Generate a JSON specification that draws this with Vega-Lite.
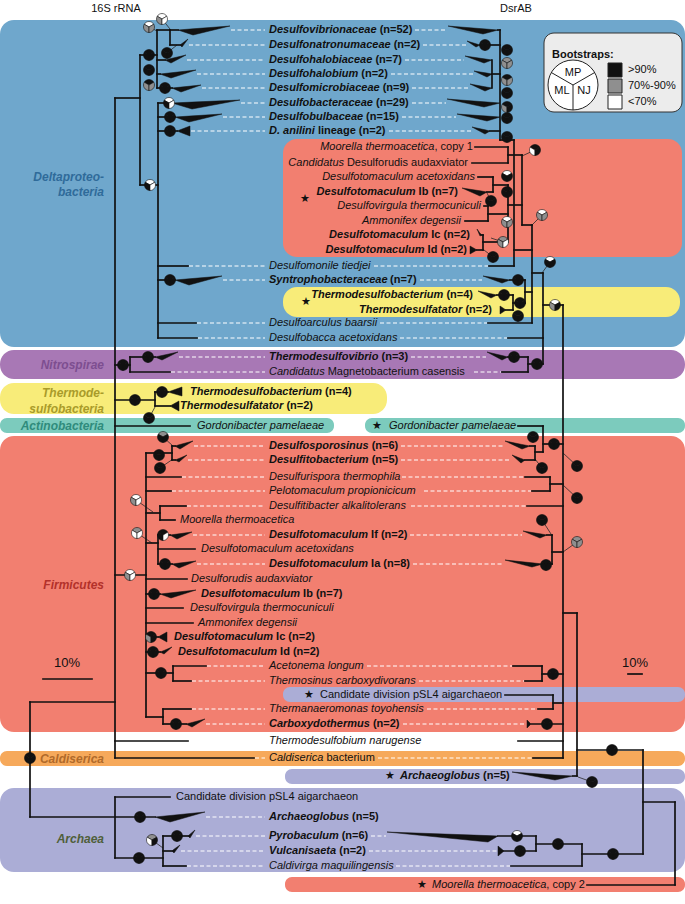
{
"$schema":"https://vega.github.io/schema/vega-lite/v6.json",
"width":685,"height":904,"padding":0,
"autosize":{"type":"fit","contains":"padding"},
"background":"white",
"config":{"view":{"stroke":null}},
"resolve":{"scale":{"fill":"independent","color":"independent"}},
"datasets":{
"bands":[
{"x":0,"x2":685,"y":20,"y2":347,"c":"#6fa7cc","r":"big"},
{"x":283,"x2":682,"y":139,"y2":257,"c":"#f27f70","r":"big"},
{"x":283,"x2":680,"y":287,"y2":317,"c":"#f8ec79","r":"big"},
{"x":0,"x2":685,"y":350,"y2":379,"c":"#a878b5","r":"big"},
{"x":0,"x2":387,"y":383,"y2":414,"c":"#f8ec79","r":"big"},
{"x":0,"x2":334,"y":418,"y2":433,"c":"#7ccbbd","r":"small"},
{"x":365,"x2":685,"y":418,"y2":433,"c":"#7ccbbd","r":"small"},
{"x":0,"x2":685,"y":436,"y2":732,"c":"#f27f70","r":"big"},
{"x":283,"x2":685,"y":687,"y2":702,"c":"#abadd6","r":"small"},
{"x":0,"x2":685,"y":751,"y2":766,"c":"#f6a95b","r":"small"},
{"x":285,"x2":685,"y":769,"y2":784,"c":"#abadd6","r":"small"},
{"x":0,"x2":685,"y":788,"y2":872,"c":"#abadd6","r":"big"},
{"x":285,"x2":685,"y":877,"y2":892,"c":"#f27f70","r":"small"}
],
"segs":[
{"x":30,"y":702,"x2":30,"y2":817},{"x":30,"y":702,"x2":115,"y2":702},{"x":30,"y":817,"x2":155,"y2":817},
{"x":115,"y":98,"x2":115,"y2":758},{"x":115,"y":797,"x2":115,"y2":858},{"x":115,"y":797,"x2":170,"y2":797},
{"x":115,"y":858,"x2":163,"y2":858},{"x":163,"y":836,"x2":163,"y2":866},{"x":163,"y":836,"x2":188,"y2":836},
{"x":163,"y":851,"x2":172,"y2":851},{"x":163,"y":866,"x2":186,"y2":866},
{"x":115,"y":98,"x2":140,"y2":98},{"x":140,"y":55,"x2":140,"y2":185},{"x":140,"y":55,"x2":157,"y2":55},
{"x":157,"y":30,"x2":157,"y2":88},{"x":157,"y":30,"x2":170,"y2":30},{"x":170,"y":30,"x2":170,"y2":45},
{"x":170,"y":30,"x2":178,"y2":30},{"x":170,"y":45,"x2":180,"y2":45},{"x":157,"y":60,"x2":165,"y2":60},
{"x":157,"y":74,"x2":160,"y2":74},{"x":157,"y":88,"x2":172,"y2":88},{"x":140,"y":185,"x2":158,"y2":185},
{"x":158,"y":103,"x2":158,"y2":338},{"x":158,"y":103,"x2":172,"y2":103},{"x":158,"y":117,"x2":175,"y2":117},
{"x":158,"y":131,"x2":177,"y2":131},{"x":158,"y":266,"x2":188,"y2":266},{"x":158,"y":280,"x2":175,"y2":280},
{"x":158,"y":323,"x2":196,"y2":323},{"x":158,"y":338,"x2":197,"y2":338},
{"x":115,"y":365,"x2":130,"y2":365},{"x":130,"y":357,"x2":130,"y2":372},{"x":130,"y":357,"x2":155,"y2":357},
{"x":130,"y":372,"x2":170,"y2":372},{"x":115,"y":400,"x2":155,"y2":400},{"x":155,"y":392,"x2":155,"y2":406},
{"x":155,"y":392,"x2":168,"y2":392},{"x":155,"y":406,"x2":170,"y2":406},{"x":115,"y":426,"x2":190,"y2":426},
{"x":115,"y":575,"x2":146,"y2":575},{"x":146,"y":453,"x2":146,"y2":717},{"x":146,"y":453,"x2":172,"y2":453},
{"x":172,"y":446,"x2":172,"y2":460},{"x":172,"y":446,"x2":175,"y2":446},{"x":172,"y":460,"x2":175,"y2":460},
{"x":146,"y":477,"x2":181,"y2":477},{"x":146,"y":491,"x2":171,"y2":491},{"x":146,"y":513,"x2":160,"y2":513},
{"x":160,"y":506,"x2":160,"y2":520},{"x":160,"y":506,"x2":186,"y2":506},{"x":160,"y":520,"x2":175,"y2":520},
{"x":146,"y":543,"x2":158,"y2":543},{"x":158,"y":535,"x2":158,"y2":564},{"x":158,"y":535,"x2":170,"y2":535},
{"x":158,"y":549,"x2":195,"y2":549},{"x":158,"y":564,"x2":172,"y2":564},{"x":146,"y":579,"x2":187,"y2":579},
{"x":146,"y":594,"x2":160,"y2":594},{"x":146,"y":608,"x2":183,"y2":608},{"x":146,"y":623,"x2":193,"y2":623},
{"x":146,"y":637,"x2":158,"y2":637},{"x":146,"y":652,"x2":160,"y2":652},{"x":146,"y":673,"x2":173,"y2":673},
{"x":173,"y":666,"x2":173,"y2":681},{"x":173,"y":666,"x2":206,"y2":666},{"x":173,"y":681,"x2":191,"y2":681},
{"x":146,"y":717,"x2":163,"y2":717},{"x":163,"y":709,"x2":163,"y2":724},{"x":163,"y":709,"x2":191,"y2":709},
{"x":163,"y":724,"x2":186,"y2":724},{"x":115,"y":741,"x2":188,"y2":741},{"x":115,"y":758,"x2":254,"y2":758},
{"x":43,"y":679,"x2":92,"y2":679},
{"x":500,"y":30,"x2":500,"y2":140},{"x":498,"y":30,"x2":500,"y2":30},{"x":480,"y":45,"x2":500,"y2":45},
{"x":492,"y":60,"x2":492,"y2":88},{"x":492,"y":74,"x2":500,"y2":74},{"x":490,"y":131,"x2":500,"y2":131},
{"x":500,"y":140,"x2":514,"y2":140},{"x":514,"y":140,"x2":514,"y2":266},{"x":489,"y":266,"x2":514,"y2":266},
{"x":475,"y":147,"x2":508,"y2":147},{"x":472,"y":163,"x2":508,"y2":163},{"x":508,"y":147,"x2":508,"y2":163},
{"x":508,"y":155,"x2":522,"y2":155},{"x":522,"y":155,"x2":522,"y2":225},{"x":478,"y":177,"x2":493,"y2":177},
{"x":487,"y":192,"x2":493,"y2":192},{"x":493,"y":177,"x2":493,"y2":192},{"x":493,"y":185,"x2":508,"y2":185},
{"x":508,"y":185,"x2":508,"y2":242},{"x":484,"y":206,"x2":488,"y2":206},{"x":465,"y":221,"x2":488,"y2":221},
{"x":488,"y":206,"x2":488,"y2":221},{"x":488,"y":214,"x2":508,"y2":214},{"x":483,"y":235,"x2":483,"y2":250},
{"x":482,"y":235,"x2":483,"y2":235},{"x":477,"y":250,"x2":483,"y2":250},{"x":483,"y":242,"x2":508,"y2":242},
{"x":508,"y":205,"x2":522,"y2":205},{"x":522,"y":225,"x2":532,"y2":225},{"x":532,"y":225,"x2":532,"y2":323},
{"x":514,"y":250,"x2":532,"y2":250},{"x":510,"y":280,"x2":525,"y2":280},{"x":525,"y":280,"x2":525,"y2":303},
{"x":497,"y":295,"x2":513,"y2":295},{"x":506,"y":310,"x2":513,"y2":310},{"x":513,"y":295,"x2":513,"y2":310},
{"x":513,"y":303,"x2":525,"y2":303},{"x":525,"y":292,"x2":532,"y2":292},{"x":488,"y":323,"x2":532,"y2":323},
{"x":532,"y":273,"x2":543,"y2":273},{"x":543,"y":273,"x2":543,"y2":364},{"x":508,"y":338,"x2":543,"y2":338},
{"x":508,"y":357,"x2":528,"y2":357},{"x":528,"y":357,"x2":528,"y2":372},{"x":502,"y":372,"x2":528,"y2":372},
{"x":528,"y":364,"x2":543,"y2":364},{"x":543,"y":305,"x2":563,"y2":305},{"x":563,"y":305,"x2":563,"y2":758},
{"x":518,"y":426,"x2":543,"y2":426},{"x":543,"y":426,"x2":543,"y2":452},{"x":530,"y":446,"x2":535,"y2":446},
{"x":525,"y":460,"x2":535,"y2":460},{"x":535,"y":446,"x2":535,"y2":460},{"x":535,"y":452,"x2":543,"y2":452},
{"x":543,"y":444,"x2":563,"y2":444},{"x":525,"y":477,"x2":550,"y2":477},{"x":532,"y":491,"x2":550,"y2":491},
{"x":550,"y":477,"x2":550,"y2":491},{"x":550,"y":484,"x2":563,"y2":484},{"x":527,"y":506,"x2":563,"y2":506},
{"x":547,"y":535,"x2":552,"y2":535},{"x":552,"y":535,"x2":552,"y2":564},{"x":543,"y":564,"x2":552,"y2":564},
{"x":552,"y":552,"x2":563,"y2":552},{"x":513,"y":666,"x2":542,"y2":666},{"x":525,"y":681,"x2":542,"y2":681},
{"x":542,"y":666,"x2":542,"y2":681},{"x":542,"y":674,"x2":563,"y2":674},{"x":505,"y":695,"x2":553,"y2":695},
{"x":538,"y":709,"x2":553,"y2":709},{"x":553,"y":695,"x2":553,"y2":709},{"x":553,"y":703,"x2":563,"y2":703},
{"x":529,"y":724,"x2":563,"y2":724},{"x":518,"y":741,"x2":563,"y2":741},{"x":533,"y":758,"x2":563,"y2":758},
{"x":563,"y":613,"x2":577,"y2":613},{"x":577,"y":613,"x2":577,"y2":776},{"x":573,"y":776,"x2":577,"y2":776},
{"x":577,"y":750,"x2":643,"y2":750},{"x":643,"y":750,"x2":643,"y2":854},{"x":582,"y":854,"x2":643,"y2":854},
{"x":582,"y":844,"x2":582,"y2":866},{"x":536,"y":844,"x2":582,"y2":844},{"x":536,"y":836,"x2":536,"y2":851},
{"x":498,"y":836,"x2":536,"y2":836},{"x":504,"y":851,"x2":536,"y2":851},{"x":511,"y":866,"x2":582,"y2":866},
{"x":643,"y":802,"x2":675,"y2":802},{"x":675,"y":802,"x2":675,"y2":885},{"x":587,"y":885,"x2":675,"y2":885},
{"x":628,"y":674,"x2":642,"y2":674}
],
"thin":[
{"x":162,"y":19,"x2":170,"y2":29},{"x":149,"y":27,"x2":157,"y2":31},{"x":167,"y":53,"x2":177,"y2":45},
{"x":136,"y":500,"x2":153,"y2":512},{"x":137,"y":533,"x2":152,"y2":543},{"x":163,"y":437,"x2":173,"y2":446},
{"x":160,"y":468,"x2":173,"y2":459},{"x":149,"y":418,"x2":155,"y2":407},{"x":152,"y":840,"x2":163,"y2":848},
{"x":542,"y":215,"x2":532,"y2":225},{"x":550,"y":262,"x2":542,"y2":273},{"x":535,"y":150,"x2":522,"y2":156},
{"x":493,"y":257,"x2":484,"y2":250},{"x":491,"y":201,"x2":487,"y2":193},{"x":577,"y":466,"x2":563,"y2":453},
{"x":577,"y":498,"x2":563,"y2":485},{"x":577,"y":542,"x2":563,"y2":552},{"x":592,"y":782,"x2":578,"y2":777},
{"x":503,"y":242,"x2":491,"y2":238},{"x":542,"y":520,"x2":551,"y2":534},{"x":542,"y":468,"x2":535,"y2":459},
{"x":573,"y":85,"x2":551.3,"y2":72.5},{"x":573,"y":85,"x2":594.7,"y2":72.5},{"x":573,"y":85,"x2":573,"y2":110}
],
"dash":[
{"x":231,"x2":265,"y":30},{"x":189,"x2":265,"y":45},{"x":187,"x2":265,"y":60},{"x":197,"x2":265,"y":74},
{"x":202,"x2":265,"y":88},{"x":241,"x2":265,"y":103},{"x":223,"x2":265,"y":117},{"x":191,"x2":265,"y":131},
{"x":189,"x2":265,"y":266},{"x":223,"x2":265,"y":280},{"x":197,"x2":265,"y":323},{"x":198,"x2":265,"y":338},
{"x":179,"x2":265,"y":357},{"x":171,"x2":265,"y":372},{"x":194,"x2":265,"y":446},{"x":188,"x2":265,"y":460},
{"x":182,"x2":265,"y":477},{"x":172,"x2":265,"y":491},{"x":187,"x2":265,"y":506},{"x":193,"x2":265,"y":535},
{"x":197,"x2":265,"y":564},{"x":207,"x2":265,"y":666},{"x":192,"x2":265,"y":681},{"x":192,"x2":265,"y":709},
{"x":206,"x2":265,"y":724},{"x":189,"x2":265,"y":741},{"x":255,"x2":265,"y":758},{"x":206,"x2":265,"y":817},
{"x":196,"x2":265,"y":836},{"x":181,"x2":265,"y":851},{"x":187,"x2":265,"y":866},
{"x":415,"x2":447,"y":30},{"x":423,"x2":466,"y":45},{"x":405,"x2":464,"y":60},{"x":391,"x2":473,"y":74},
{"x":412,"x2":469,"y":88},{"x":412,"x2":446,"y":103},{"x":402,"x2":456,"y":117},{"x":389,"x2":471,"y":131},
{"x":374,"x2":488,"y":266},{"x":420,"x2":482,"y":280},{"x":380,"x2":487,"y":323},{"x":400,"x2":507,"y":338},
{"x":411,"x2":486,"y":357},{"x":474,"x2":501,"y":372},{"x":401,"x2":504,"y":446},{"x":401,"x2":511,"y":460},
{"x":402,"x2":524,"y":477},{"x":424,"x2":531,"y":491},{"x":411,"x2":526,"y":506},{"x":410,"x2":522,"y":535},
{"x":413,"x2":504,"y":564},{"x":367,"x2":512,"y":666},{"x":419,"x2":524,"y":681},{"x":427,"x2":537,"y":709},
{"x":403,"x2":526,"y":724},{"x":429,"x2":517,"y":741},{"x":378,"x2":532,"y":758},{"x":371,"x2":386,"y":836},
{"x":369,"x2":497,"y":851},{"x":396,"x2":510,"y":866}
],
"wedges":[
{"w":"L1","x":178,"y":30,"y2":30},{"w":"L1","x":193,"y":28.8,"y2":35},{"w":"L1","x":230,"y":26,"y2":26},
{"w":"L2","x":180,"y":45,"y2":45},{"w":"L2","x":182,"y":43.5,"y2":47},{"w":"L2","x":188,"y":39,"y2":39},
{"w":"L3","x":165,"y":60,"y2":60},{"w":"L3","x":171,"y":58.5,"y2":63},{"w":"L3","x":186,"y":55,"y2":55},
{"w":"L4","x":160,"y":74,"y2":74},{"w":"L4","x":171,"y":72.8,"y2":78},{"w":"L4","x":196,"y":70,"y2":70},
{"w":"L5","x":172,"y":88,"y2":88},{"w":"L5","x":181,"y":87.1,"y2":92},{"w":"L5","x":201,"y":85,"y2":85},
{"w":"L6","x":172,"y":103,"y2":103},{"w":"L6","x":192,"y":102.1,"y2":109},{"w":"L6","x":240,"y":100,"y2":100},
{"w":"L7","x":175,"y":117,"y2":117},{"w":"L7","x":189,"y":116.1,"y2":122},{"w":"L7","x":222,"y":114,"y2":114},
{"w":"L8","x":177,"y":131,"y2":131},{"w":"L8","x":190,"y":126,"y2":136},
{"w":"L9","x":175,"y":280,"y2":280},{"w":"L9","x":189,"y":278.8,"y2":285},{"w":"L9","x":222,"y":276,"y2":276},
{"w":"L10","x":155,"y":357,"y2":357},{"w":"L10","x":162,"y":355.5,"y2":360},{"w":"L10","x":178,"y":352,"y2":352},
{"w":"L11","x":168,"y":392,"y2":392},{"w":"L11","x":182,"y":387,"y2":396},
{"w":"L12","x":170,"y":406,"y2":406},{"w":"L12","x":179,"y":401,"y2":411},
{"w":"L13","x":175,"y":446,"y2":446},{"w":"L13","x":180,"y":444.5,"y2":449},{"w":"L13","x":193,"y":441,"y2":441},
{"w":"L14","x":175,"y":460,"y2":460},{"w":"L14","x":179,"y":458.5,"y2":462},{"w":"L14","x":187,"y":455,"y2":455},
{"w":"L15","x":170,"y":535,"y2":535},{"w":"L15","x":177,"y":534.1,"y2":539},{"w":"L15","x":192,"y":532,"y2":532},
{"w":"L16","x":172,"y":564,"y2":564},{"w":"L16","x":179,"y":563.1,"y2":568},{"w":"L16","x":196,"y":561,"y2":561},
{"w":"L17","x":160,"y":594,"y2":594},{"w":"L17","x":171,"y":592.8,"y2":598},{"w":"L17","x":196,"y":590,"y2":590},
{"w":"L18","x":158,"y":637,"y2":637},{"w":"L18","x":167,"y":632,"y2":642},
{"w":"L19","x":160,"y":652,"y2":652},{"w":"L19","x":164,"y":650.5,"y2":654},{"w":"L19","x":172,"y":647,"y2":647},
{"w":"L20","x":186,"y":724,"y2":724},{"w":"L20","x":192,"y":722.5,"y2":727},{"w":"L20","x":205,"y":719,"y2":719},
{"w":"L21","x":155,"y":817,"y2":817},{"w":"L21","x":170,"y":815.5,"y2":822},{"w":"L21","x":205,"y":812,"y2":812},
{"w":"L22","x":188,"y":836,"y2":836},{"w":"L22","x":190,"y":834.2,"y2":838},{"w":"L22","x":195,"y":830,"y2":830},
{"w":"L23","x":172,"y":851,"y2":851},{"w":"L23","x":174,"y":849.2,"y2":853},{"w":"L23","x":180,"y":845,"y2":845},
{"w":"R1","x":448,"y":26,"y2":26},{"w":"R1","x":483,"y":28.8,"y2":34},{"w":"R1","x":498,"y":30,"y2":30},
{"w":"R2","x":467,"y":41,"y2":41},{"w":"R2","x":476,"y":43.8,"y2":47},{"w":"R2","x":480,"y":45,"y2":45},
{"w":"R3","x":465,"y":56,"y2":56},{"w":"R3","x":484,"y":58.8,"y2":63},{"w":"R3","x":492,"y":60,"y2":60},
{"w":"R4","x":474,"y":71,"y2":71},{"w":"R4","x":487,"y":73.1,"y2":77},{"w":"R4","x":492,"y":74,"y2":74},
{"w":"R5","x":470,"y":84,"y2":84},{"w":"R5","x":485,"y":86.8,"y2":91},{"w":"R5","x":492,"y":88,"y2":88},
{"w":"R6","x":447,"y":99,"y2":99},{"w":"R6","x":484,"y":101.8,"y2":107},{"w":"R6","x":500,"y":103,"y2":103},
{"w":"R7","x":457,"y":114,"y2":114},{"w":"R7","x":487,"y":116.1,"y2":121},{"w":"R7","x":500,"y":117,"y2":117},
{"w":"R8","x":472,"y":127,"y2":127},{"w":"R8","x":485,"y":129.8,"y2":134},{"w":"R8","x":490,"y":131,"y2":131},
{"w":"R9","x":462,"y":188,"y2":188},{"w":"R9","x":480,"y":190.8,"y2":196},{"w":"R9","x":487,"y":192,"y2":192},
{"w":"R10","x":477,"y":229,"y2":229},{"w":"R10","x":480,"y":233.2,"y2":236},{"w":"R10","x":482,"y":235,"y2":235},
{"w":"R11","x":470,"y":246,"y2":254},{"w":"R11","x":477,"y":250,"y2":250},
{"w":"R12","x":483,"y":276,"y2":276},{"w":"R12","x":502,"y":278.8,"y2":283},{"w":"R12","x":510,"y":280,"y2":280},
{"w":"R13","x":478,"y":291,"y2":291},{"w":"R13","x":491,"y":293.8,"y2":298},{"w":"R13","x":497,"y":295,"y2":295},
{"w":"R14","x":500,"y":306,"y2":314},{"w":"R14","x":506,"y":310,"y2":310},
{"w":"R15","x":487,"y":352,"y2":352},{"w":"R15","x":502,"y":355.5,"y2":360},{"w":"R15","x":508,"y":357,"y2":357},
{"w":"R16","x":505,"y":441,"y2":441},{"w":"R16","x":522,"y":444.5,"y2":449},{"w":"R16","x":530,"y":446,"y2":446},
{"w":"R17","x":512,"y":455,"y2":455},{"w":"R17","x":521,"y":458.5,"y2":463},{"w":"R17","x":525,"y":460,"y2":460},
{"w":"R18","x":523,"y":531,"y2":531},{"w":"R18","x":540,"y":533.8,"y2":538},{"w":"R18","x":547,"y":535,"y2":535},
{"w":"R19","x":505,"y":560,"y2":560},{"w":"R19","x":532,"y":562.8,"y2":567},{"w":"R19","x":543,"y":564,"y2":564},
{"w":"R20","x":512,"y":772,"y2":772},{"w":"R20","x":555,"y":775.1,"y2":780},{"w":"R20","x":573,"y":776,"y2":776},
{"w":"R21","x":387,"y":832,"y2":832},{"w":"R21","x":488,"y":835.6,"y2":842},{"w":"R21","x":498,"y":836,"y2":836},
{"w":"R22","x":498,"y":846,"y2":856},{"w":"R22","x":504,"y":851,"y2":851},
{"w":"R23","x":527,"y":720,"y2":728},{"w":"R23","x":530,"y":723,"y2":725}
],
"pies":[
{"x":162,"y":19,"mp":"w","ml":"g","nj":"w"},{"x":149,"y":27,"mp":"w","ml":"g","nj":"g"},{"x":149,"y":55,"mp":"b","ml":"b","nj":"b"},
{"x":167,"y":53,"mp":"b","ml":"b","nj":"b"},{"x":149,"y":70,"mp":"b","ml":"b","nj":"b"},{"x":149,"y":85,"mp":"b","ml":"g","nj":"g"},
{"x":165,"y":88,"mp":"b","ml":"b","nj":"b"},{"x":169,"y":103,"mp":"w","ml":"b","nj":"w"},{"x":170,"y":117,"mp":"b","ml":"b","nj":"b"},
{"x":170,"y":131,"mp":"b","ml":"b","nj":"b"},{"x":150,"y":185,"mp":"w","ml":"b","nj":"w"},{"x":170,"y":280,"mp":"b","ml":"b","nj":"b"},
{"x":123,"y":365,"mp":"b","ml":"b","nj":"b"},{"x":148,"y":357,"mp":"b","ml":"b","nj":"b"},{"x":135,"y":400,"mp":"b","ml":"b","nj":"b"},
{"x":162,"y":392,"mp":"b","ml":"b","nj":"b"},{"x":149,"y":418,"mp":"b","ml":"b","nj":"b"},{"x":163,"y":437,"mp":"g","ml":"b","nj":"b"},
{"x":159,"y":455,"mp":"b","ml":"b","nj":"b"},{"x":160,"y":468,"mp":"b","ml":"b","nj":"b"},{"x":136,"y":500,"mp":"w","ml":"g","nj":"w"},
{"x":137,"y":533,"mp":"g","ml":"w","nj":"w"},{"x":163,"y":535,"mp":"b","ml":"b","nj":"w"},{"x":165,"y":564,"mp":"b","ml":"b","nj":"b"},
{"x":130,"y":575,"mp":"w","ml":"g","nj":"w"},{"x":154,"y":594,"mp":"b","ml":"b","nj":"b"},{"x":151,"y":637,"mp":"b","ml":"g","nj":"b"},
{"x":153,"y":652,"mp":"b","ml":"b","nj":"b"},{"x":161,"y":673,"mp":"b","ml":"b","nj":"b"},{"x":176,"y":724,"mp":"b","ml":"b","nj":"b"},
{"x":30,"y":758,"mp":"b","ml":"b","nj":"b"},{"x":140,"y":817,"mp":"b","ml":"b","nj":"b"},{"x":139,"y":858,"mp":"b","ml":"b","nj":"b"},
{"x":177,"y":836,"mp":"b","ml":"b","nj":"b"},{"x":152,"y":840,"mp":"g","ml":"w","nj":"b"},
{"x":485,"y":45,"mp":"b","ml":"b","nj":"b"},{"x":507,"y":50,"mp":"b","ml":"b","nj":"b"},{"x":507,"y":63,"mp":"g","ml":"g","nj":"g"},
{"x":507,"y":80,"mp":"b","ml":"g","nj":"g"},{"x":507,"y":93,"mp":"b","ml":"b","nj":"b"},{"x":507,"y":107,"mp":"b","ml":"g","nj":"b"},
{"x":507,"y":118,"mp":"b","ml":"b","nj":"b"},{"x":507,"y":137,"mp":"b","ml":"b","nj":"b"},{"x":535,"y":150,"mp":"b","ml":"w","nj":"b"},
{"x":507,"y":176,"mp":"w","ml":"b","nj":"b"},{"x":507,"y":192,"mp":"b","ml":"b","nj":"b"},{"x":491,"y":201,"mp":"b","ml":"b","nj":"b"},
{"x":507,"y":222,"mp":"w","ml":"g","nj":"g"},{"x":503,"y":242,"mp":"g","ml":"g","nj":"w"},{"x":493,"y":257,"mp":"b","ml":"b","nj":"b"},
{"x":542,"y":215,"mp":"w","ml":"g","nj":"g"},{"x":550,"y":262,"mp":"w","ml":"b","nj":"b"},{"x":518,"y":280,"mp":"b","ml":"b","nj":"b"},
{"x":504,"y":295,"mp":"b","ml":"b","nj":"b"},{"x":520,"y":303,"mp":"b","ml":"b","nj":"b"},{"x":518,"y":316,"mp":"b","ml":"b","nj":"b"},
{"x":555,"y":305,"mp":"w","ml":"g","nj":"b"},{"x":514,"y":357,"mp":"b","ml":"b","nj":"b"},{"x":537,"y":364,"mp":"b","ml":"b","nj":"b"},
{"x":533,"y":437,"mp":"b","ml":"b","nj":"b"},{"x":554,"y":444,"mp":"b","ml":"b","nj":"b"},{"x":542,"y":468,"mp":"b","ml":"b","nj":"b"},
{"x":577,"y":466,"mp":"b","ml":"b","nj":"b"},{"x":577,"y":498,"mp":"b","ml":"b","nj":"b"},{"x":542,"y":520,"mp":"b","ml":"b","nj":"b"},
{"x":546,"y":565,"mp":"b","ml":"b","nj":"b"},{"x":577,"y":542,"mp":"g","ml":"g","nj":"g"},{"x":553,"y":674,"mp":"b","ml":"b","nj":"b"},
{"x":547,"y":724,"mp":"b","ml":"b","nj":"b"},{"x":612,"y":750,"mp":"b","ml":"b","nj":"b"},{"x":592,"y":782,"mp":"b","ml":"b","nj":"b"},
{"x":517,"y":836,"mp":"w","ml":"b","nj":"b"},{"x":520,"y":851,"mp":"b","ml":"b","nj":"b"},{"x":558,"y":844,"mp":"b","ml":"b","nj":"b"},
{"x":613,"y":854,"mp":"b","ml":"b","nj":"b"}
],
"labels":[
{"x":269,"y":30,"t":"Desulfovibrionaceae","s":"bi","a":"l"},{"x":269,"y":45,"t":"Desulfonatronumaceae","s":"bi","a":"l"},
{"x":269,"y":60,"t":"Desulfohalobiaceae","s":"bi","a":"l"},{"x":269,"y":74,"t":"Desulfohalobium","s":"bi","a":"l"},
{"x":269,"y":88,"t":"Desulfomicrobiaceae","s":"bi","a":"l"},{"x":269,"y":103,"t":"Desulfobacteraceae","s":"bi","a":"l"},
{"x":269,"y":117,"t":"Desulfobulbaceae","s":"bi","a":"l"},{"x":269,"y":131,"t":"D. anilini","s":"bi","a":"l"},
{"x":269,"y":280,"t":"Syntrophobacteraceae","s":"bi","a":"l"},{"x":269,"y":357,"t":"Thermodesulfovibrio","s":"bi","a":"l"},
{"x":190,"y":392,"t":"Thermodesulfobacterium","s":"bi","a":"l"},{"x":180,"y":406,"t":"Thermodesulfatator","s":"bi","a":"l"},
{"x":269,"y":446,"t":"Desulfosporosinus","s":"bi","a":"l"},{"x":269,"y":460,"t":"Desulfitobacterium","s":"bi","a":"l"},
{"x":269,"y":535,"t":"Desulfotomaculum","s":"bi","a":"l"},{"x":269,"y":564,"t":"Desulfotomaculum","s":"bi","a":"l"},
{"x":201,"y":594,"t":"Desulfotomaculum","s":"bi","a":"l"},{"x":174,"y":637,"t":"Desulfotomaculum","s":"bi","a":"l"},
{"x":178,"y":652,"t":"Desulfotomaculum","s":"bi","a":"l"},{"x":269,"y":724,"t":"Carboxydothermus","s":"bi","a":"l"},
{"x":400,"y":776,"t":"Archaeoglobus","s":"bi","a":"l"},{"x":269,"y":817,"t":"Archaeoglobus","s":"bi","a":"l"},
{"x":269,"y":836,"t":"Pyrobaculum","s":"bi","a":"l"},{"x":269,"y":851,"t":"Vulcanisaeta","s":"bi","a":"l"},
{"x":379.7,"y":30,"t":"(n=52)","s":"b","a":"l"},{"x":393.7,"y":45,"t":"(n=2)","s":"b","a":"l"},
{"x":375.4,"y":60,"t":"(n=7)","s":"b","a":"l"},{"x":361.3,"y":74,"t":"(n=2)","s":"b","a":"l"},
{"x":382.7,"y":88,"t":"(n=9)","s":"b","a":"l"},{"x":376,"y":103,"t":"(n=29)","s":"b","a":"l"},
{"x":366.1,"y":117,"t":"(n=15)","s":"b","a":"l"},{"x":317.9,"y":131,"t":"lineage (n=2)","s":"b","a":"l"},
{"x":390,"y":280,"t":"(n=7)","s":"b","a":"l"},{"x":381.5,"y":357,"t":"(n=3)","s":"b","a":"l"},
{"x":325.1,"y":392,"t":"(n=4)","s":"b","a":"l"},{"x":286.4,"y":406,"t":"(n=2)","s":"b","a":"l"},
{"x":371.7,"y":446,"t":"(n=6)","s":"b","a":"l"},{"x":371.7,"y":460,"t":"(n=5)","s":"b","a":"l"},
{"x":371.1,"y":535,"t":"If (n=2)","s":"b","a":"l"},{"x":371.1,"y":564,"t":"Ia (n=8)","s":"b","a":"l"},
{"x":303.1,"y":594,"t":"Ib (n=7)","s":"b","a":"l"},{"x":276.1,"y":637,"t":"Ic (n=2)","s":"b","a":"l"},
{"x":280.1,"y":652,"t":"Id (n=2)","s":"b","a":"l"},{"x":372.9,"y":724,"t":"(n=2)","s":"b","a":"l"},
{"x":483.1,"y":776,"t":"(n=5)","s":"b","a":"l"},{"x":352.1,"y":817,"t":"(n=5)","s":"b","a":"l"},
{"x":341.7,"y":836,"t":"(n=6)","s":"b","a":"l"},{"x":339.3,"y":851,"t":"(n=2)","s":"b","a":"l"},
{"x":552,"y":55,"t":"Bootstraps:","s":"b","a":"l"},
{"x":269,"y":266,"t":"Desulfomonile tiedjei","s":"i","a":"l"},{"x":269,"y":323,"t":"Desulfoarculus baarsii","s":"i","a":"l"},
{"x":269,"y":338,"t":"Desulfobacca acetoxidans","s":"i","a":"l"},{"x":269,"y":372,"t":"Candidatus","s":"i","a":"l"},
{"x":197,"y":426,"t":"Gordonibacter pamelaeae","s":"i","a":"l"},{"x":389,"y":426,"t":"Gordonibacter pamelaeae","s":"i","a":"l"},
{"x":269,"y":477,"t":"Desulfurispora thermophila","s":"i","a":"l"},{"x":269,"y":491,"t":"Pelotomaculum propionicicum","s":"i","a":"l"},
{"x":269,"y":506,"t":"Desulfitibacter alkalitolerans","s":"i","a":"l"},{"x":180,"y":520,"t":"Moorella thermoacetica","s":"i","a":"l"},
{"x":201,"y":549,"t":"Desulfotomaculum acetoxidans","s":"i","a":"l"},{"x":191,"y":579,"t":"Desulforudis audaxviator","s":"i","a":"l"},
{"x":190,"y":608,"t":"Desulfovirgula thermocuniculi","s":"i","a":"l"},{"x":198,"y":623,"t":"Ammonifex degensii","s":"i","a":"l"},
{"x":269,"y":666,"t":"Acetonema longum","s":"i","a":"l"},{"x":269,"y":681,"t":"Thermosinus carboxydivorans","s":"i","a":"l"},
{"x":269,"y":709,"t":"Thermanaeromonas toyohensis","s":"i","a":"l"},{"x":269,"y":741,"t":"Thermodesulfobium narugense","s":"i","a":"l"},
{"x":269,"y":758,"t":"Caldiserica","s":"i","a":"l"},{"x":269,"y":866,"t":"Caldivirga maquilingensis","s":"i","a":"l"},
{"x":432,"y":885,"t":"Moorella thermoacetica","s":"i","a":"l"},
{"x":327.7,"y":372,"t":"Magnetobacterium casensis","s":"n","a":"l"},{"x":326.5,"y":758,"t":"bacterium","s":"n","a":"l"},
{"x":546.3,"y":885,"t":", copy 2","s":"n","a":"l"},{"x":320,"y":695,"t":"Candidate division pSL4 aigarchaeon","s":"n","a":"l"},
{"x":176,"y":797,"t":"Candidate division pSL4 aigarchaeon","s":"n","a":"l"},
{"x":628,"y":70,"t":">90%","s":"n","a":"l"},{"x":628,"y":86,"t":"70%-90%","s":"n","a":"l"},{"x":628,"y":102,"t":"<70%","s":"n","a":"l"},
{"x":415.6,"y":192,"t":"Desulfotomaculum","s":"bi","a":"r"},{"x":428.1,"y":235,"t":"Desulfotomaculum","s":"bi","a":"r"},
{"x":424.5,"y":250,"t":"Desulfotomaculum","s":"bi","a":"r"},{"x":443.3,"y":295,"t":"Thermodesulfobacterium","s":"bi","a":"r"},
{"x":462.3,"y":310,"t":"Thermodesulfatator","s":"bi","a":"r"},
{"x":458,"y":192,"t":"Ib (n=7)","s":"b","a":"r"},{"x":470,"y":235,"t":"Ic (n=2)","s":"b","a":"r"},
{"x":467,"y":250,"t":"Id (n=2)","s":"b","a":"r"},{"x":473,"y":295,"t":"(n=4)","s":"b","a":"r"},{"x":492,"y":310,"t":"(n=2)","s":"b","a":"r"},
{"x":434.5,"y":147,"t":"Moorella thermoacetica","s":"i","a":"r"},{"x":344,"y":163,"t":"Candidatus","s":"i","a":"r"},
{"x":475,"y":177,"t":"Desulfotomaculum acetoxidans","s":"i","a":"r"},{"x":481,"y":206,"t":"Desulfovirgula thermocuniculi","s":"i","a":"r"},
{"x":461,"y":221,"t":"Ammonifex degensii","s":"i","a":"r"},
{"x":473,"y":147,"t":", copy 1","s":"n","a":"r"},{"x":468,"y":163,"t":"Desulforudis audaxviator","s":"n","a":"r"},
{"x":116,"y":9,"t":"16S rRNA","s":"n","a":"c"},{"x":516,"y":9,"t":"DsrAB","s":"n","a":"c"},
{"x":573,"y":73,"t":"MP","s":"n","a":"c"},{"x":562,"y":91,"t":"ML","s":"n","a":"c"},{"x":584,"y":91,"t":"NJ","s":"n","a":"c"},
{"x":305,"y":199,"t":"★","s":"n","a":"c"},{"x":306,"y":302,"t":"★","s":"n","a":"c"},{"x":377,"y":426,"t":"★","s":"n","a":"c"},
{"x":309,"y":695,"t":"★","s":"n","a":"c"},{"x":390,"y":776,"t":"★","s":"n","a":"c"},{"x":422,"y":885,"t":"★","s":"n","a":"c"}
],
"groups":[
{"x":104,"y":177,"t":"Deltaproteo-","c":"#2f6b9a"},{"x":104,"y":192,"t":"bacteria","c":"#2f6b9a"},
{"x":104,"y":365,"t":"Nitrospirae","c":"#7d4e90"},{"x":104,"y":393,"t":"Thermode-","c":"#a99b2a"},
{"x":104,"y":409,"t":"sulfobacteria","c":"#a99b2a"},{"x":104,"y":426,"t":"Actinobacteria","c":"#2f8b7c"},
{"x":104,"y":585,"t":"Firmicutes","c":"#b3312a"},{"x":104,"y":759,"t":"Caldiserica","c":"#b06a2a"},
{"x":104,"y":839,"t":"Archaea","c":"#4f5f3a"}
]
},
"layer":[
{"data":{"name":"bands"},"transform":[{"filter":"datum.r=='big'"}],"mark":{"type":"rect","cornerRadius":14},
 "encoding":{"x":{"field":"x","type":"quantitative","scale":{"domain":[0,685],"nice":false,"zero":false},"axis":null},"x2":{"field":"x2"},
 "y":{"field":"y","type":"quantitative","scale":{"domain":[0,904],"nice":false,"zero":false,"reverse":true},"axis":null},"y2":{"field":"y2"},
 "fill":{"field":"c","type":"nominal","scale":null}}},
{"data":{"name":"bands"},"transform":[{"filter":"datum.r=='small'"}],"mark":{"type":"rect","cornerRadius":7},
 "encoding":{"x":{"field":"x","type":"quantitative","scale":{"domain":[0,685],"nice":false,"zero":false},"axis":null},"x2":{"field":"x2"},
 "y":{"field":"y","type":"quantitative","scale":{"domain":[0,904],"nice":false,"zero":false,"reverse":true},"axis":null},"y2":{"field":"y2"},
 "fill":{"field":"c","type":"nominal","scale":null}}},
{"data":{"values":[{"x":544,"x2":682,"y":33,"y2":112}]},"mark":{"type":"rect","cornerRadius":10,"fill":"#ececec","stroke":"#333333","strokeWidth":1},
 "encoding":{"x":{"field":"x","type":"quantitative","scale":{"domain":[0,685],"nice":false,"zero":false},"axis":null},"x2":{"field":"x2"},
 "y":{"field":"y","type":"quantitative","scale":{"domain":[0,904],"nice":false,"zero":false,"reverse":true},"axis":null},"y2":{"field":"y2"}}},
{"data":{"name":"dash"},"mark":{"type":"rule","color":"#ffffff","strokeWidth":1.2,"strokeDash":[4,2.5]},
 "encoding":{"x":{"field":"x","type":"quantitative","scale":{"domain":[0,685],"nice":false,"zero":false},"axis":null},"x2":{"field":"x2"},
 "y":{"field":"y","type":"quantitative","scale":{"domain":[0,904],"nice":false,"zero":false,"reverse":true},"axis":null}}},
{"data":{"name":"thin"},"mark":{"type":"rule","color":"#2a2a2a","strokeWidth":0.8},
 "encoding":{"x":{"field":"x","type":"quantitative","scale":{"domain":[0,685],"nice":false,"zero":false},"axis":null},"x2":{"field":"x2"},
 "y":{"field":"y","type":"quantitative","scale":{"domain":[0,904],"nice":false,"zero":false,"reverse":true},"axis":null},"y2":{"field":"y2"}}},
{"data":{"name":"segs"},"mark":{"type":"rule","color":"#111111","strokeWidth":1.7,"strokeCap":"square"},
 "encoding":{"x":{"field":"x","type":"quantitative","scale":{"domain":[0,685],"nice":false,"zero":false},"axis":null},"x2":{"field":"x2"},
 "y":{"field":"y","type":"quantitative","scale":{"domain":[0,904],"nice":false,"zero":false,"reverse":true},"axis":null},"y2":{"field":"y2"}}},
{"data":{"name":"wedges"},"mark":{"type":"area","orient":"vertical","color":"#111111","stroke":"#111111","strokeWidth":0.5,"opacity":1},
 "encoding":{"x":{"field":"x","type":"quantitative","scale":{"domain":[0,685],"nice":false,"zero":false},"axis":null},
 "y":{"field":"y","type":"quantitative","scale":{"domain":[0,904],"nice":false,"zero":false,"reverse":true},"axis":null},"y2":{"field":"y2"},
 "detail":{"field":"w","type":"nominal"}}},
{"data":{"values":[{"x":573,"y":85}]},"mark":{"type":"point","shape":"circle","size":2500,"filled":true,"fill":"#ffffff","stroke":"#222222","strokeWidth":1,"opacity":1},
 "encoding":{"x":{"field":"x","type":"quantitative","scale":{"domain":[0,685],"nice":false,"zero":false},"axis":null},
 "y":{"field":"y","type":"quantitative","scale":{"domain":[0,904],"nice":false,"zero":false,"reverse":true},"axis":null}}},
{"data":{"values":[{"x":573,"y":85,"x2":551.3,"y2":72.5},{"x":573,"y":85,"x2":594.7,"y2":72.5},{"x":573,"y":85,"x2":573,"y2":110}]},"mark":{"type":"rule","color":"#222222","strokeWidth":1},
 "encoding":{"x":{"field":"x","type":"quantitative","scale":{"domain":[0,685],"nice":false,"zero":false},"axis":null},"x2":{"field":"x2"},
 "y":{"field":"y","type":"quantitative","scale":{"domain":[0,904],"nice":false,"zero":false,"reverse":true},"axis":null},"y2":{"field":"y2"}}},
{"data":{"values":[{"x":615,"y":70,"f":"#111111"},{"x":615,"y":86,"f":"#8f8f8f"},{"x":615,"y":102,"f":"#ffffff"}]},"mark":{"type":"point","shape":"square","size":196,"filled":true,"stroke":"#222222","strokeWidth":1,"opacity":1},
 "encoding":{"x":{"field":"x","type":"quantitative","scale":{"domain":[0,685],"nice":false,"zero":false},"axis":null},
 "y":{"field":"y","type":"quantitative","scale":{"domain":[0,904],"nice":false,"zero":false,"reverse":true},"axis":null},
 "fill":{"field":"f","type":"nominal","scale":null}}},
{"data":{"name":"pies"},"mark":{"type":"point","shape":"M0,0L-0.866,-0.5A1,1,0,0,1,0.866,-0.5Z","size":121,"filled":true,"stroke":"#111111","strokeWidth":0.6,"opacity":1},
 "encoding":{"x":{"field":"x","type":"quantitative","scale":{"domain":[0,685],"nice":false,"zero":false},"axis":null},
 "y":{"field":"y","type":"quantitative","scale":{"domain":[0,904],"nice":false,"zero":false,"reverse":true},"axis":null},
 "fill":{"field":"mp","type":"nominal","scale":{"domain":["b","g","w"],"range":["#111111","#8f8f8f","#ffffff"]},"legend":null}}},
{"data":{"name":"pies"},"mark":{"type":"point","shape":"M0,0L0,1A1,1,0,0,1,-0.866,-0.5Z","size":121,"filled":true,"stroke":"#111111","strokeWidth":0.6,"opacity":1},
 "encoding":{"x":{"field":"x","type":"quantitative","scale":{"domain":[0,685],"nice":false,"zero":false},"axis":null},
 "y":{"field":"y","type":"quantitative","scale":{"domain":[0,904],"nice":false,"zero":false,"reverse":true},"axis":null},
 "fill":{"field":"ml","type":"nominal","scale":{"domain":["b","g","w"],"range":["#111111","#8f8f8f","#ffffff"]},"legend":null}}},
{"data":{"name":"pies"},"mark":{"type":"point","shape":"M0,0L0.866,-0.5A1,1,0,0,1,0,1Z","size":121,"filled":true,"stroke":"#111111","strokeWidth":0.6,"opacity":1},
 "encoding":{"x":{"field":"x","type":"quantitative","scale":{"domain":[0,685],"nice":false,"zero":false},"axis":null},
 "y":{"field":"y","type":"quantitative","scale":{"domain":[0,904],"nice":false,"zero":false,"reverse":true},"axis":null},
 "fill":{"field":"nj","type":"nominal","scale":{"domain":["b","g","w"],"range":["#111111","#8f8f8f","#ffffff"]},"legend":null}}},
{"data":{"name":"labels"},"transform":[{"filter":"datum.s=='bi' && datum.a=='l'"}],"mark":{"type":"text","font":"Liberation Sans","fontSize":11,"fontStyle":"italic","fontWeight":"bold","align":"left","baseline":"middle","color":"#111111"},
 "encoding":{"x":{"field":"x","type":"quantitative","scale":{"domain":[0,685],"nice":false,"zero":false},"axis":null},
 "y":{"field":"y","type":"quantitative","scale":{"domain":[0,904],"nice":false,"zero":false,"reverse":true},"axis":null},"text":{"field":"t"}}},
{"data":{"name":"labels"},"transform":[{"filter":"datum.s=='b' && datum.a=='l'"}],"mark":{"type":"text","font":"Liberation Sans","fontSize":11,"fontWeight":"bold","align":"left","baseline":"middle","color":"#111111"},
 "encoding":{"x":{"field":"x","type":"quantitative","scale":{"domain":[0,685],"nice":false,"zero":false},"axis":null},
 "y":{"field":"y","type":"quantitative","scale":{"domain":[0,904],"nice":false,"zero":false,"reverse":true},"axis":null},"text":{"field":"t"}}},
{"data":{"name":"labels"},"transform":[{"filter":"datum.s=='i' && datum.a=='l'"}],"mark":{"type":"text","font":"Liberation Sans","fontSize":11,"fontStyle":"italic","align":"left","baseline":"middle","color":"#111111"},
 "encoding":{"x":{"field":"x","type":"quantitative","scale":{"domain":[0,685],"nice":false,"zero":false},"axis":null},
 "y":{"field":"y","type":"quantitative","scale":{"domain":[0,904],"nice":false,"zero":false,"reverse":true},"axis":null},"text":{"field":"t"}}},
{"data":{"name":"labels"},"transform":[{"filter":"datum.s=='n' && datum.a=='l'"}],"mark":{"type":"text","font":"Liberation Sans","fontSize":11,"align":"left","baseline":"middle","color":"#111111"},
 "encoding":{"x":{"field":"x","type":"quantitative","scale":{"domain":[0,685],"nice":false,"zero":false},"axis":null},
 "y":{"field":"y","type":"quantitative","scale":{"domain":[0,904],"nice":false,"zero":false,"reverse":true},"axis":null},"text":{"field":"t"}}},
{"data":{"name":"labels"},"transform":[{"filter":"datum.s=='bi' && datum.a=='r'"}],"mark":{"type":"text","font":"Liberation Sans","fontSize":11,"fontStyle":"italic","fontWeight":"bold","align":"right","baseline":"middle","color":"#111111"},
 "encoding":{"x":{"field":"x","type":"quantitative","scale":{"domain":[0,685],"nice":false,"zero":false},"axis":null},
 "y":{"field":"y","type":"quantitative","scale":{"domain":[0,904],"nice":false,"zero":false,"reverse":true},"axis":null},"text":{"field":"t"}}},
{"data":{"name":"labels"},"transform":[{"filter":"datum.s=='b' && datum.a=='r'"}],"mark":{"type":"text","font":"Liberation Sans","fontSize":11,"fontWeight":"bold","align":"right","baseline":"middle","color":"#111111"},
 "encoding":{"x":{"field":"x","type":"quantitative","scale":{"domain":[0,685],"nice":false,"zero":false},"axis":null},
 "y":{"field":"y","type":"quantitative","scale":{"domain":[0,904],"nice":false,"zero":false,"reverse":true},"axis":null},"text":{"field":"t"}}},
{"data":{"name":"labels"},"transform":[{"filter":"datum.s=='i' && datum.a=='r'"}],"mark":{"type":"text","font":"Liberation Sans","fontSize":11,"fontStyle":"italic","align":"right","baseline":"middle","color":"#111111"},
 "encoding":{"x":{"field":"x","type":"quantitative","scale":{"domain":[0,685],"nice":false,"zero":false},"axis":null},
 "y":{"field":"y","type":"quantitative","scale":{"domain":[0,904],"nice":false,"zero":false,"reverse":true},"axis":null},"text":{"field":"t"}}},
{"data":{"name":"labels"},"transform":[{"filter":"datum.s=='n' && datum.a=='r'"}],"mark":{"type":"text","font":"Liberation Sans","fontSize":11,"align":"right","baseline":"middle","color":"#111111"},
 "encoding":{"x":{"field":"x","type":"quantitative","scale":{"domain":[0,685],"nice":false,"zero":false},"axis":null},
 "y":{"field":"y","type":"quantitative","scale":{"domain":[0,904],"nice":false,"zero":false,"reverse":true},"axis":null},"text":{"field":"t"}}},
{"data":{"name":"labels"},"transform":[{"filter":"datum.a=='c'"}],"mark":{"type":"text","font":"Liberation Sans","fontSize":11,"align":"center","baseline":"middle","color":"#111111"},
 "encoding":{"x":{"field":"x","type":"quantitative","scale":{"domain":[0,685],"nice":false,"zero":false},"axis":null},
 "y":{"field":"y","type":"quantitative","scale":{"domain":[0,904],"nice":false,"zero":false,"reverse":true},"axis":null},"text":{"field":"t"}}},
{"data":{"values":[{"x":67,"y":663,"t":"10%"},{"x":635,"y":663,"t":"10%"}]},"mark":{"type":"text","font":"Liberation Sans","fontSize":13,"align":"center","baseline":"middle","color":"#111111"},
 "encoding":{"x":{"field":"x","type":"quantitative","scale":{"domain":[0,685],"nice":false,"zero":false},"axis":null},
 "y":{"field":"y","type":"quantitative","scale":{"domain":[0,904],"nice":false,"zero":false,"reverse":true},"axis":null},"text":{"field":"t"}}},
{"data":{"name":"groups"},"mark":{"type":"text","font":"Liberation Sans","fontSize":12,"fontStyle":"italic","fontWeight":"bold","align":"right","baseline":"middle"},
 "encoding":{"x":{"field":"x","type":"quantitative","scale":{"domain":[0,685],"nice":false,"zero":false},"axis":null},
 "y":{"field":"y","type":"quantitative","scale":{"domain":[0,904],"nice":false,"zero":false,"reverse":true},"axis":null},"text":{"field":"t"},
 "fill":{"field":"c","type":"nominal","scale":null}}}
]
}
